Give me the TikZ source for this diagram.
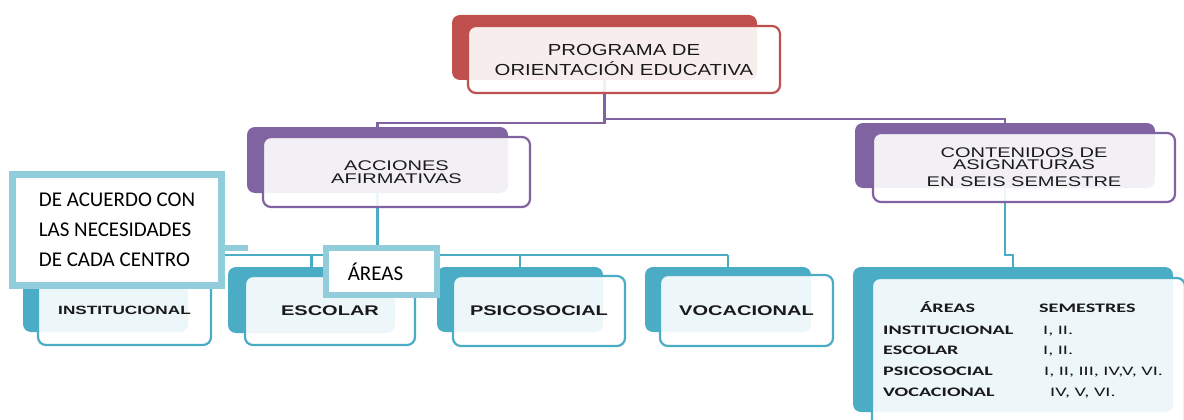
\documentclass[tikz,border=0pt]{standalone}
\usepackage{fontspec}
\setmainfont{Carlito}
\newfontfamily\saFont[FakeStretch=1.43]{Liberation Sans}
\newfontfamily\topFont[FakeStretch=1.27]{Liberation Sans}
\newfontfamily\tabFont[FakeStretch=1.55]{Carlito}
\definecolor{cred}{HTML}{C0504D}
\definecolor{cpur}{HTML}{8064A2}
\definecolor{cteal}{HTML}{4BACC6}
\definecolor{clight}{HTML}{92CDDC}
\definecolor{ctext}{HTML}{1A1A1A}
\tikzset{
  backbox/.style={fill=#1, draw=none, rounded corners=8pt, inner sep=0pt, outer sep=0pt},
  frontbox/.style={draw=#1, line width=2.2pt, fill=white, fill opacity=0.9, draw opacity=1, text opacity=1,
    rounded corners=8pt, inner sep=0pt, outer sep=0pt, text=ctext, align=center},
  toplbl/.style={font=\topFont\fontsize{16}{20}\selectfont},
  midlbl/.style={font=\saFont\fontsize{14}{12.5}\selectfont},
  arealbl/.style={font=\saFont\bfseries\fontsize{14}{14}\selectfont},
  tcell/.style={inner sep=0pt, anchor=base west, text=ctext, font=\tabFont\bfseries\fontsize{13}{13}\selectfont},
  tnum/.style={inner sep=0pt, anchor=base west, text=ctext, font=\tabFont\fontsize{13}{13}\selectfont},
  lightbox/.style={draw=clight, fill=white, inner sep=0pt, outer sep=0pt, text=black},
  conp/.style={draw=cpur, line width=2.6pt, line join=miter},
  cont/.style={draw=cteal, line width=2.6pt, line join=miter},
}
\begin{document}
\begin{tikzpicture}[x=1pt, y=-1pt]
\useasboundingbox (0,0) rectangle (1184,420);
\fill[white] (0,0) rectangle (1184,420);
\clip (0,0) rectangle (1184,420);

% back shapes
\node[backbox=cred,  minimum width=305pt, minimum height=65pt] (topB) at (604.5,47.5) {};
\node[backbox=cpur,  minimum width=261pt, minimum height=66pt] (accB) at (377.5,160) {};
\node[backbox=cpur,  minimum width=300pt, minimum height=65pt] (conB) at (1005,155.5) {};
\node[backbox=cteal, minimum width=165pt, minimum height=65pt] (insB) at (105.5,299.5) {};
\node[backbox=cteal, minimum width=167pt, minimum height=66pt] (escB) at (311.5,300) {};
\node[backbox=cteal, minimum width=166pt, minimum height=65pt] (psiB) at (520,299.5) {};
\node[backbox=cteal, minimum width=166pt, minimum height=65pt] (vocB) at (728,299.5) {};
\node[backbox=cteal, minimum width=320pt, minimum height=145pt] (tabB) at (1013,339.5) {};

% connectors
\coordinate (bus) at (0,255);
\draw[conp] (topB.south) -- ++(0,43) -| (accB.north);
\draw[conp] (topB.south) -- ++(0,39) -| (conB.north);
\draw[cont] (accB.south) -- (accB.south |- bus);
\draw[cont] (insB.north |- bus) -- (vocB.north |- bus);
\foreach \n in {insB,escB,psiB,vocB} \draw[cont] (\n.north |- bus) -- (\n.north);
\draw[cont] (conB.south) -- ++(0,67) -| (tabB.north);

% front boxes
\node[frontbox=cred, toplbl, minimum width=312pt, minimum height=67pt] (topF) at (624,59.5)
  {PROGRAMA DE\\ORIENTACIÓN EDUCATIVA};
\node[frontbox=cpur, midlbl, minimum width=267pt, minimum height=70pt] (accF) at (396.5,172)
  {ACCIONES\\AFIRMATIVAS};
\node[frontbox=cpur, font=\saFont\fontsize{14}{12}\selectfont, minimum width=302pt, minimum height=69pt] (conF) at (1024,167.5)
  {CONTENIDOS DE\\ASIGNATURAS\\[5pt]EN SEIS SEMESTRE};
\node[frontbox=cteal, font=\saFont\bfseries\fontsize{12}{12}\selectfont, minimum width=173pt, minimum height=69pt] (insF) at (124.5,310.5) {INSTITUCIONAL};
\node[frontbox=cteal, arealbl, minimum width=170pt, minimum height=69pt] (escF) at (330,310.5) {ESCOLAR};
\node[frontbox=cteal, arealbl, minimum width=172pt, minimum height=70pt] (psiF) at (539,311) {PSICOSOCIAL};
\node[frontbox=cteal, arealbl, minimum width=173pt, minimum height=71pt] (vocF) at (746.5,310.5) {VOCACIONAL};
\node[frontbox=cteal, minimum width=313pt, minimum height=162pt] (tabF) at (1028.5,359) {};

% table text
\node[tcell] (hA) at (920,312) {ÁREAS};
\node[tcell] (hS) at (1039,312) {SEMESTRES};
\node[tcell] (r1a) at (883,334) {INSTITUCIONAL};
\node[tnum]  (r1b) at (1043,334) {I, II.};
\node[tcell] (r2a) at (883,354) {ESCOLAR};
\node[tnum]  (r2b) at (1043,354) {I, II.};
\node[tcell] (r3a) at (883,375) {PSICOSOCIAL};
\node[tnum]  (r3b) at (1044,375) {I, II, III, IV,V, VI.};
\node[tcell] (r4a) at (883,396) {VOCACIONAL};
\node[tnum]  (r4b) at (1050,396) {IV, V, VI.};

% overlay text boxes
\coordinate (stubEnd) at (248,248);
\draw[draw=clight, line width=6pt] (stubEnd -| 218,0) -- (stubEnd);
\node[lightbox, line width=7pt, minimum width=209pt, minimum height=111pt, align=left,
  font=\fontsize{21}{30}\selectfont] (dea) at (117,230) {DE ACUERDO CON\\LAS NECESIDADES\\DE CADA CENTRO};
\node[lightbox, line width=6pt, minimum width=111pt, minimum height=47pt,
  font=\fontsize{21}{21}\selectfont] (areas) at (381.5,271.5) {ÁREAS\hspace*{12pt}};
\end{tikzpicture}
\end{document}
